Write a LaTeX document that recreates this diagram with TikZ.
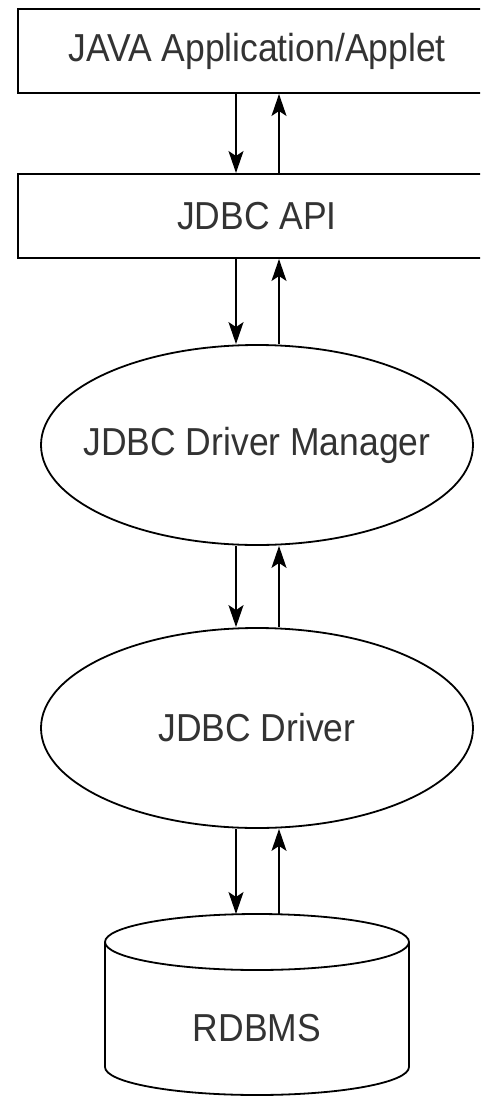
\documentclass[tikz,border=0pt]{standalone}
\usepackage{fontspec}
\setmainfont{Liberation Sans}[FakeStretch=0.91]
\usetikzlibrary{arrows.meta,shapes.geometric}
\tikzset{
  lbl/.style={font=\fontsize{39}{45}\selectfont, text=black!80},
  boxnode/.style={draw, line width=2pt, rectangle, inner sep=0pt, lbl},
  ellnode/.style={draw, line width=1.8pt, ellipse, inner sep=0pt, minimum width=432pt, minimum height=200pt, lbl},
  arr/.style={line width=1.8pt, -{Stealth[length=22pt, width=15pt, inset=5pt]}},
  cyl/.style={line width=1.8pt}
}
\begin{document}
\begin{tikzpicture}[x=1pt, y=-1pt]
\useasboundingbox (0,0) rectangle (480,1097);
\clip (0,0) rectangle (480,1097);
\fill[white] (0,0) rectangle (480,1097);
\coordinate (dx) at (236,0);
\coordinate (ux) at (279,0);
\node[boxnode, minimum width=478pt, minimum height=84pt] (app) at (257,51) {JAVA Application/Applet};
\node[boxnode, minimum width=478pt, minimum height=84pt] (api) at (257,216) {JDBC API};
\node[ellnode] (mgr) at (257,445) {\makebox[0pt]{JDBC Driver Manager}};
\node[ellnode] (drv) at (257,728) {\makebox[0pt]{JDBC Driver}};
\node[lbl, inner sep=0pt] (db) at (257,1028) {RDBMS};
\coordinate (dbtop) at (257,914);
% cylinder
\draw[cyl] (105,942) arc[start angle=180, end angle=-180, x radius=152pt, y radius=28pt];
\draw[cyl] (105,942) -- (105,1067) arc[start angle=180, end angle=360, x radius=152pt, y radius=28pt] -- (409,942);
% arrows
\draw[arr] (app.south -| dx) -- (api.north -| dx);
\draw[arr] (api.north -| ux) -- (app.south -| ux);
\draw[arr] (api.south -| dx) -- (mgr.north -| dx);
\draw[arr] (mgr.north -| ux) -- (api.south -| ux);
\draw[arr] (mgr.south -| dx) -- (drv.north -| dx);
\draw[arr] (drv.north -| ux) -- (mgr.south -| ux);
\draw[arr] (drv.south -| dx) -- (dbtop -| dx);
\draw[arr] (dbtop -| ux) -- (drv.south -| ux);
\end{tikzpicture}
\end{document}
